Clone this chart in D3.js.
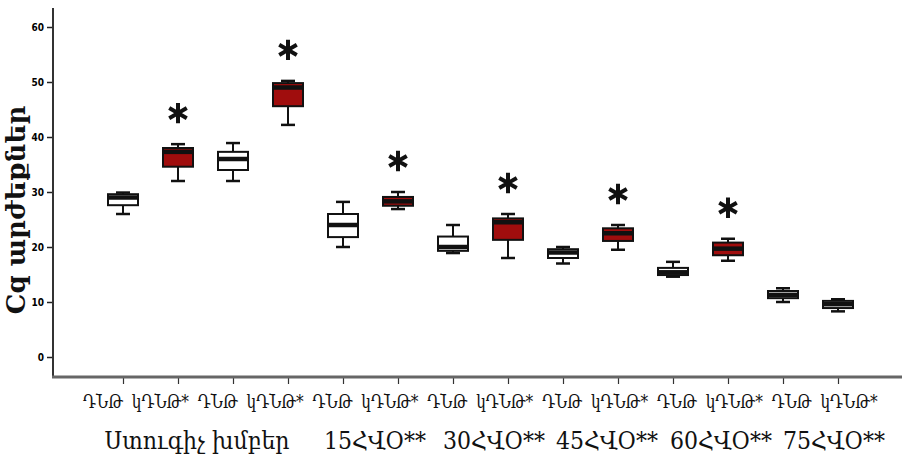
<!DOCTYPE html>
<html>
<head>
<meta charset="utf-8">
<script src="https://cdn.jsdelivr.net/npm/d3@7"></script>
<style>
  body { margin: 0; background: #fff; }
  svg { display: block; }
  .yAxis text { font-family: "Liberation Sans Narrow", "DejaVu Sans Condensed", sans-serif; font-weight: bold; font-size: 10px; }
</style>
</head>
<body>
<div id="chart"></div>
<script>
// box plot of Cq values
// categories (x axis, one per box)
var categories = ["ԴՆԹ", "կԴՆԹ*", "ԴՆԹ", "կԴՆԹ*", "ԴՆԹ", "կԴՆԹ*", "ԴՆԹ",
  "կԴՆԹ*", "ԴՆԹ", "կԴՆԹ*", "ԴՆԹ", "կԴՆԹ*", "ԴՆԹ", "կԴՆԹ*"];
// group labels under the pairs
var groups = ["Ստուգիչ խմբեր", "15ՀՎՕ**", "30ՀՎՕ**", "45ՀՎՕ**", "60ՀՎՕ**", "75ՀՎՕ**"];
// box statistics
var whiskLow = [26.0, 32.0, 32.0, 42.2, 20.0, 26.9, 18.9, 18.0, 17.0, 19.5, 14.6, 17.5, 10.0, 8.3];
var q1 = [27.6, 34.6, 34.0, 45.6, 21.8, 27.5, 19.3, 21.3, 18.0, 21.1, 14.9, 18.5, 10.7, 8.9];
var median = [29.0, 37.3, 36.0, 49.0, 24.0, 28.3, 20.0, 24.5, 19.0, 22.5, 15.4, 19.7, 11.3, 9.6];
var q3 = [29.6, 38.0, 37.3, 49.8, 26.0, 29.1, 21.9, 25.2, 19.6, 23.4, 16.2, 20.8, 12.0, 10.2];
var whiskHigh = [29.9, 38.7, 38.9, 50.2, 28.2, 30.0, 24.0, 26.0, 20.0, 24.0, 17.3, 21.5, 12.5, 10.5];
// which boxes are significant (red fill + asterisk)
var signif = [false, true, false, true, false, true, false, true, false, true, false, true, false, false];
// y tick values
var yTicks = [0, 10, 20, 30, 40, 50, 60];

var width = 902;
var height = 464;
var axisX = 53;
var axisY = 377;
var boxW = 30;
var capW = 14;
var red = "#a00d0d";

var svg = d3.select("#chart").append("svg")
  .attr("width", width).attr("height", height);

var data = categories.map(function(c, i) {
  return { i: i, name: c, lo: whiskLow[i], q1: q1[i], med: median[i],
    q3: q3[i], hi: whiskHigh[i], sig: signif[i] };
});

var yScale = d3.scaleLinear().domain([0, 60]).range([357, 27]);
var xScale = d3.scalePoint().domain(d3.range(categories.length)).range([123, 838]);
// the label row is set a little wider than the ticks
var labelScale = d3.scalePoint().domain(d3.range(categories.length)).range([103, 849]);

// y axis
var yAxis = d3.axisLeft(yScale).tickValues(yTicks).tickSize(6).tickPadding(3);
var gy = svg.append("g").attr("class", "yAxis")
  .attr("transform", "translate(" + axisX + ",0)").call(yAxis);
gy.select(".domain").remove();
gy.selectAll(".tick line").attr("stroke", "#222").attr("stroke-width", 1.5);
gy.append("line").attr("x1", 0).attr("x2", 0).attr("y1", 8).attr("y2", axisY)
  .attr("stroke", "#333").attr("stroke-width", 2);

// x axis
var xAxis = d3.axisBottom(xScale).tickSize(7).tickFormat("");
var gx = svg.append("g").attr("class", "xAxis")
  .attr("transform", "translate(0," + axisY + ")").call(xAxis);
gx.select(".domain").remove();
gx.selectAll(".tick line").attr("stroke", "#333").attr("stroke-width", 1.2);
gx.append("line").attr("x1", axisX - 1).attr("x2", width).attr("y1", 0).attr("y2", 0)
  .attr("stroke", "#666").attr("stroke-width", 3);

// boxes
var boxes = svg.selectAll("g.box").data(data).enter().append("g")
  .attr("class", "box")
  .attr("transform", function(d) { return "translate(" + xScale(d.i) + ",0)"; });

// whisker stems
boxes.append("line").attr("x1", 0).attr("x2", 0)
  .attr("y1", function(d) { return yScale(d.hi); })
  .attr("y2", function(d) { return yScale(d.lo); })
  .attr("stroke", "#111").attr("stroke-width", 2);
// whisker caps
boxes.selectAll("line.cap").data(function(d) { return [d.hi, d.lo]; }).enter()
  .append("line").attr("class", "cap")
  .attr("x1", -capW / 2).attr("x2", capW / 2)
  .attr("y1", function(v) { return yScale(v); })
  .attr("y2", function(v) { return yScale(v); })
  .attr("stroke", "#111").attr("stroke-width", 2.5);
// box body
boxes.append("rect")
  .attr("x", -boxW / 2).attr("width", boxW)
  .attr("y", function(d) { return yScale(d.q3); })
  .attr("height", function(d) { return yScale(d.q1) - yScale(d.q3); })
  .attr("fill", function(d) { return d.sig ? red : "#fff"; })
  .attr("stroke", "#111").attr("stroke-width", 2);
// median
boxes.append("line")
  .attr("x1", -boxW / 2).attr("x2", boxW / 2)
  .attr("y1", function(d) { return yScale(d.med); })
  .attr("y2", function(d) { return yScale(d.med); })
  .attr("stroke", "#111").attr("stroke-width", 4.5);

// asterisks over significant boxes
var star = d3.symbol().type(d3.symbolAsterisk).size(290);
boxes.filter(function(d) { return d.sig; }).append("path")
  .attr("d", star)
  .attr("transform", function(d) { return "translate(0," + (yScale(d.hi) - 31) + ")"; })
  .attr("fill", "none").attr("stroke", "#111").attr("stroke-width", 4);

// category labels (narrow, tall glyphs)
svg.append("g").selectAll("text").data(data).enter().append("text")
  .attr("transform", function(d) {
    return "translate(" + labelScale(d.i) + ",408)scale(0.85,1)";
  })
  .attr("text-anchor", "middle")
  .attr("font-family", "'DejaVu Serif', serif")
  .attr("font-size", 18)
  .attr("fill", "#111")
  .text(function(d) { return d.name; });

// group labels
var groupX = [197, 375, 494, 607, 721, 834];
svg.append("g").selectAll("text").data(groups).enter().append("text")
  .attr("transform", function(d, i) {
    return "translate(" + groupX[i] + ",449)scale(0.92,1)";
  })
  .attr("text-anchor", "middle")
  .attr("font-family", "'DejaVu Serif', serif")
  .attr("font-size", 24)
  .attr("fill", "#111")
  .text(function(d) { return d; });

// y axis title
svg.append("text")
  .attr("transform", "translate(25,210)rotate(-90)")
  .attr("text-anchor", "middle")
  .attr("font-family", "'DejaVu Serif', serif")
  .attr("font-weight", "bold")
  .attr("font-size", 26)
  .attr("fill", "#111")
  .text("Cq արժեքներ");
</script>
</body>
</html>
